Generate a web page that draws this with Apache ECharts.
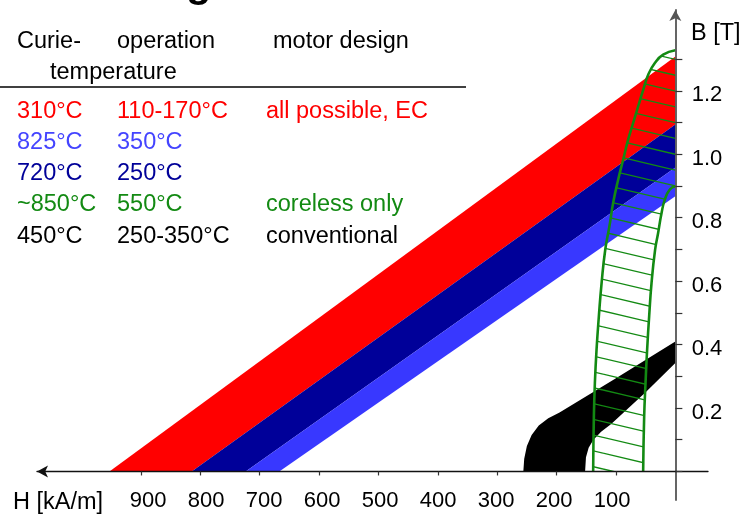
<!DOCTYPE html>
<html><head><meta charset="utf-8">
<script src="https://cdn.jsdelivr.net/npm/echarts@6/dist/echarts.min.js"></script>
<style>html,body{margin:0;padding:0;background:#fff}#c{width:744px;height:515px}</style>
</head><body><div id="c"></div>
<script>
const FONT = '"Liberation Sans", Arial, sans-serif';

// axis ticks / labels
const hTicks = [100, 200, 300, 400, 500, 600, 700, 800, 900];
const bTicks = [0, 0.1, 0.2, 0.3, 0.4, 0.5, 0.6, 0.7, 0.8, 0.9, 1.0, 1.1, 1.2, 1.3];
const bLabels = [0.2, 0.4, 0.6, 0.8, 1.0, 1.2];

// straight demagnetisation boundaries of the rare-earth bands
// H at B=0 (kA/m) and B at H=0 (T), from upper to lower boundary
const bandHc = [953, 814.5, 723.6, 667];
const bandBr = [1.308, 1.094, 0.958, 0.868];
const bandColors = ['#ff0000', '#000099', '#3838ff'];

// AlNiCo region (hatched), [H, B]
const alnicoOuter = [[138.4,0],[137.2,0.173],[135.5,0.279],[132.7,0.384],[128.8,0.489],[124.2,0.594],[118,0.70],[111,0.773],[104.7,0.847],[96.3,0.920],[87.9,0.983],[79.5,1.046],[71,1.099],[62.6,1.151],[54,1.204],[45.7,1.251],[34.5,1.288],[20.5,1.314],[0,1.328]];
const alnicoInner = [[54.2,0],[52.5,0.173],[50.2,0.279],[47.5,0.384],[44.1,0.489],[40.1,0.594],[34,0.70],[29,0.752],[23.2,0.815],[17.7,0.857],[9.3,0.889],[0,0.899]];

// Ferrite region (black), [H, B]
const ferriteOuter = [[256,0],[254.5,0.04],[250,0.08],[242,0.115],[230,0.145],[214,0.168],[195,0.186],[100,0.294],[0,0.41]];
const ferriteInner = [[152,0],[150.5,0.045],[146,0.075],[138,0.1],[125,0.125],[108,0.15],[50,0.25],[0,0.342]];

// table
const tableHeader = [['Curie-', 17, 42], ['operation', 117, 42], ['motor design', 273, 42], ['temperature', 50, 73]];
const tableRows = [
  ['310°C', '110-170°C', 'all possible, EC', '#ff0000'],
  ['825°C', '350°C', '', '#4444ff'],
  ['720°C', '250°C', '', '#000099'],
  ['~850°C', '550°C', 'coreless only', '#138a13'],
  ['450°C', '250-350°C', 'conventional', '#000000']
];
const tableColX = [17, 117, 266];
const tableRowY = [111.5, 142.5, 173.5, 205, 236.5];

function makeHatch() {
  const W = 67, sp = 15.8, H = 79, y0 = 10.8;
  const c = document.createElement('canvas');
  c.width = W; c.height = H;
  const g = c.getContext('2d');
  g.strokeStyle = '#138a13';
  g.lineWidth = 1.3;
  for (let i = -1; i <= 5; i++) {
    const y = y0 + i * sp;
    g.beginPath(); g.moveTo(0, y); g.lineTo(W, y + sp); g.stroke();
  }
  return c;
}
const hatch = { image: makeHatch(), repeat: 'repeat' };

// polygons built from the arrays
const bandPolys = [0, 1, 2].map(i => [[bandHc[i], 0], [0, bandBr[i]], [0, bandBr[i + 1]], [bandHc[i + 1], 0]]);
const alnicoPoly = alnicoOuter.concat(alnicoInner.slice().reverse());
const ferritePoly = ferriteOuter.concat(ferriteInner.slice().reverse());

function polySeries(polys, styleFn, z) {
  return {
    type: 'custom',
    coordinateSystem: 'cartesian2d',
    xAxisIndex: 0, yAxisIndex: 0,
    clip: false,
    z: z,
    silent: true,
    data: polys.map(p => p[0]),
    renderItem: function (params, api) {
      const pts = polys[params.dataIndex].map(p => api.coord(p));
      return { type: 'polygon', shape: { points: pts }, style: styleFn(params.dataIndex) };
    }
  };
}

const graphics = [];
graphics.push({ type: 'text', x: -94, y: -14.2, style: { text: 'Permanent Magnets', fontFamily: FONT, fontWeight: 'bold', fontSize: 41, fill: '#000', align: 'left', verticalAlign: 'middle' } });
tableHeader.forEach(h => graphics.push({ type: 'text', x: h[1], y: h[2], style: { text: h[0], fontFamily: FONT, fontSize: 23.5, fill: '#000', align: 'left', verticalAlign: 'middle' } }));
graphics.push({ type: 'line', shape: { x1: 0, y1: 87, x2: 466, y2: 87 }, style: { stroke: '#000', lineWidth: 1.5 } });
tableRows.forEach((r, i) => {
  for (let k = 0; k < 3; k++) {
    if (!r[k]) continue;
    graphics.push({ type: 'text', x: tableColX[k], y: tableRowY[i], style: { text: r[k], fontFamily: FONT, fontSize: 23.5, fill: r[3], align: 'left', verticalAlign: 'middle' } });
  }
});
graphics.push({ type: 'text', x: 691, y: 34, style: { text: 'B [T]', fontFamily: FONT, fontSize: 23.5, fill: '#000', align: 'left', verticalAlign: 'middle' } });
graphics.push({ type: 'text', x: 13, y: 503, style: { text: 'H [kA/m]', fontFamily: FONT, fontSize: 23.5, fill: '#000', align: 'left', verticalAlign: 'middle' } });

const chart = echarts.init(document.getElementById('c'), null, { renderer: 'canvas' });
chart.setOption({
  animation: false,
  backgroundColor: '#fff',
  grid: { left: 37, right: 36, top: 10, bottom: 15, containLabel: false, outerBoundsMode: 'none' },
  xAxis: [{
    type: 'value', inverse: true, min: -55, max: 1075, z: 10,
    axisLine: { show: true, onZero: true, symbol: ['arrow', 'none'], symbolSize: [9, 11], lineStyle: { color: '#111', width: 1.3 } },
    axisTick: { show: true, customValues: hTicks, length: 4, lineStyle: { color: '#333', width: 1.2 } },
    axisLabel: { show: false },
    splitLine: { show: false }
  }, {
    type: 'value', inverse: true, min: -65.5, max: 1091.4, position: 'bottom', offset: -28.3,
    axisLine: { show: false, onZero: false },
    axisTick: { show: false },
    axisLabel: { show: true, customValues: hTicks, fontFamily: FONT, fontSize: 22, color: '#000', margin: 18.7 },
    splitLine: { show: false }
  }],
  yAxis: [{
    type: 'value', min: -0.09, max: 1.455, position: 'right', z: 10,
    axisLine: { show: true, onZero: true, onZeroAxisIndex: 0, symbol: ['none', 'arrow'], symbolSize: [9, 11], lineStyle: { color: '#555', width: 1.8 } },
    axisTick: { show: true, customValues: bTicks, length: 7, lineStyle: { color: '#333', width: 1.2 } },
    axisLabel: { show: false },
    splitLine: { show: false }
  }, {
    type: 'value', min: -0.0758, max: 1.4692, position: 'right',
    axisLine: { show: false, onZero: false },
    axisTick: { show: false },
    axisLabel: { show: true, customValues: bLabels, formatter: v => v.toFixed(1), fontFamily: FONT, fontSize: 22, color: '#000', margin: -16.3, align: 'left' },
    splitLine: { show: false }
  }],
  graphic: graphics,
  series: [
    polySeries(bandPolys, i => ({ fill: bandColors[i] }), 2),
    polySeries([ferritePoly], () => ({ fill: '#000' }), 3),
    polySeries([alnicoPoly], () => ({ fill: hatch }), 4),
    { type: 'line', data: alnicoOuter, smooth: true, symbol: 'none', z: 5, silent: true, lineStyle: { color: '#138a13', width: 2.6 } },
    { type: 'line', data: alnicoInner, smooth: true, symbol: 'none', z: 5, silent: true, lineStyle: { color: '#138a13', width: 2.6 } }
  ]
});
</script></body></html>
